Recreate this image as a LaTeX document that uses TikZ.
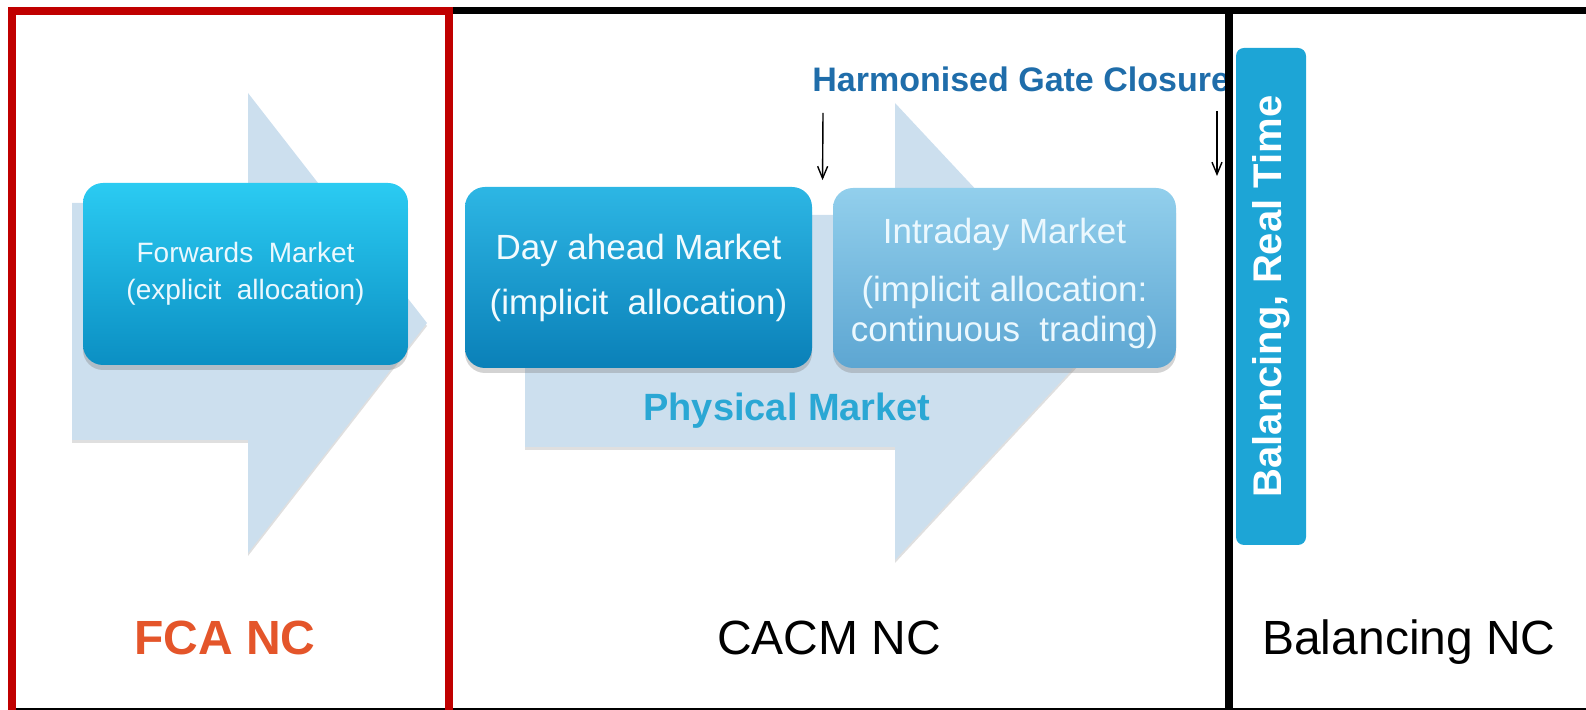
\documentclass[tikz,border=0pt]{standalone}
\usepackage{fontspec}
\setmainfont{Liberation Sans}
\usetikzlibrary{arrows.meta, shadows, calc}

\definecolor{arrowblue}{HTML}{CCDFEE}
\definecolor{fwdtop}{HTML}{2BCBF2}
\definecolor{fwdbot}{HTML}{0B8FC3}
\definecolor{damtop}{HTML}{2DB6E4}
\definecolor{dambot}{HTML}{0A80B8}
\definecolor{idmtop}{HTML}{92CFEC}
\definecolor{idmbot}{HTML}{5DA6D2}
\definecolor{balblue}{HTML}{1DA5D6}
\definecolor{gateblue}{HTML}{1F6DAA}
\definecolor{physblue}{HTML}{2AA7D4}
\definecolor{fcaorange}{HTML}{E4552A}
\definecolor{framered}{HTML}{C00000}

\begin{document}
\begin{tikzpicture}[x=0.5pt, y=-0.5pt,
    market/.style={rounded corners=10pt, align=center, inner sep=0pt,
      drop shadow={opacity=0.35, shadow xshift=0pt, shadow yshift=-2.5pt}},
    bigarrow/.style={fill=arrowblue,
      drop shadow={opacity=0.25, shadow xshift=0pt, shadow yshift=-1.5pt}},
    ncname/.style={anchor=base, inner sep=0pt, font=\fontsize{24}{28}\selectfont},
    gate/.style={-{Straight Barb[length=6pt, width=5pt]}, line width=0.7pt},
  ]
    \useasboundingbox (0,0) rectangle (1586,710);

    % Background arrows
    \path[bigarrow] (72,203) -- (248,203) -- (248,93) -- (427,323)
      -- (248,553) -- (248,440) -- (72,440) -- cycle;
    \path[bigarrow] (525,215) -- (895,215) -- (895,103) -- (1108,331)
      -- (895,560) -- (895,447) -- (525,447) -- cycle;

    % Markets
    \node[market, top color=fwdtop, bottom color=fwdbot, text=white!92!cyan,
      minimum width=162.5pt, minimum height=91pt,
      font=\fontsize{14}{18.5}\selectfont] (fwd) at (245.5,274)
      {Forwards \ Market\\(explicit \ allocation)};
    \node[market, top color=damtop, bottom color=dambot, text=white!95!cyan,
      minimum width=173.5pt, minimum height=90.5pt,
      font=\fontsize{17.5}{20.5}\selectfont] (dam) at (638.5,277.5)
      {Day ahead Market\\[7pt](implicit \ allocation)};
    \node[market, top color=idmtop, bottom color=idmbot, text=white!92!cyan,
      minimum width=171.5pt, minimum height=90pt,
      font=\fontsize{17.5}{20}\selectfont] (idm) at (1004.5,278)
      {\rule{0pt}{18pt}Intraday Market\\[9pt](implicit allocation:\\continuous \ trading)};
    \node[fill=balblue, rounded corners=4pt, rotate=90, inner sep=0pt,
      minimum width=248.5pt, minimum height=35pt, text=white,
      font=\bfseries\fontsize{20}{24}\selectfont] (bal) at (1271,296.5)
      {Balancing, Real Time};

    % Labels
    \node[anchor=base, inner sep=0pt, text=physblue,
      font=\bfseries\fontsize{19}{22}\selectfont] (phys) at (787,421)
      {Physical Market};
    \node[anchor=base west, inner sep=0pt, text=gateblue,
      font=\bfseries\fontsize{17}{20}\selectfont] (hgc) at (812,92)
      {Harmonised Gate Closure};

    % Gate closures
    \coordinate (gcA) at (823,113);
    \coordinate (gcB) at (1217,111);
    \coordinate (gcBend) at (1217,176);
    \draw[gate, shorten >=3.5pt] (gcA) -- ($(dam.north east)!0.5!(idm.north west)$);
    \draw[gate] (gcB) -- (gcBend);

    % Network codes
    \node[ncname, text=fcaorange] (fca) at (225,655) {\bfseries FCA NC};
    \node[ncname] (cacm) at (829,655) {CACM NC};
    \node[ncname] (balnc) at (1409,655) {Balancing NC};

    % Frames
    \draw[line width=0.8pt] (11,709) -- (1586,709);
    \draw[line width=3.5pt] (449,11) -- (1590,11);
    \draw[line width=4pt] (1229,11) -- (1229,716);
    \draw[line width=4pt, draw=framered] (11.5,11) rectangle (449,720);
\end{tikzpicture}
\end{document}
